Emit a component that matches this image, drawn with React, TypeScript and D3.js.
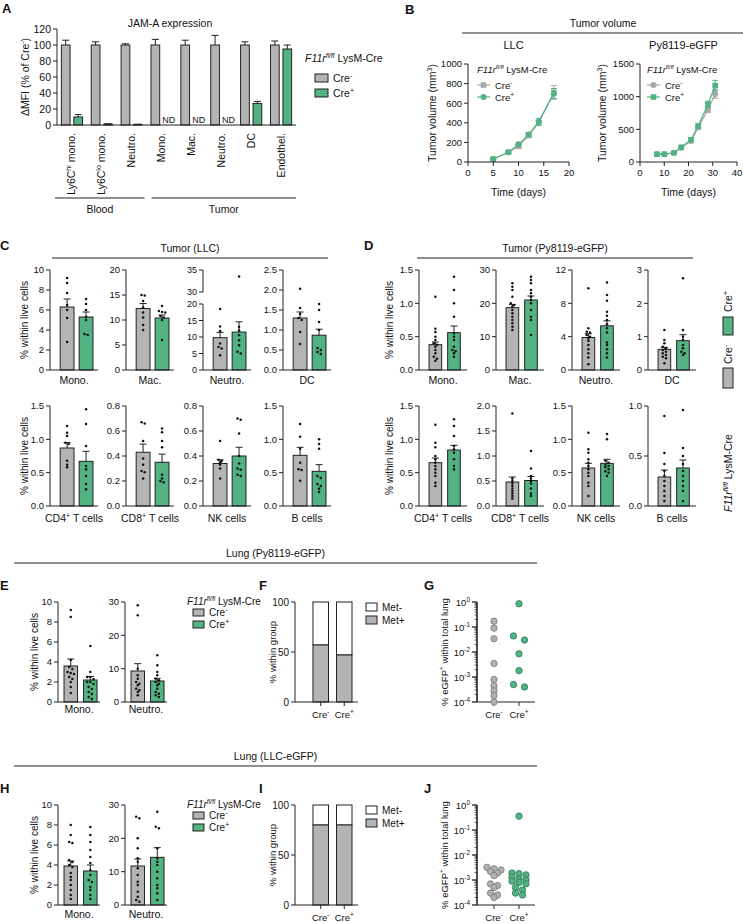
import React from "react";
import * as d3 from "d3";

const FONT = "'Liberation Sans', Arial, Helvetica, sans-serif";
const GREY = "#b4b4b4";
const GREEN = "#52b282";
const INK = "#222";
const LINE_GREY = "#a8a8a8";
const DOT_GREY_FILL = "#b0b0b0";
const DOT_GREY_STROKE = "#7a7a7a";
const DOT_GREEN_STROKE = "#2c7a52";

// ---------- Panel A ----------
const aCats = ["Ly6C^{hi} mono.", "Ly6C^{lo} mono.", "Neutro.", "Mono.", "Mac.", "Neutro.", "DC", "Endothel."];
const aNegMean = [100, 100, 100, 100, 100, 100, 100, 100];
const aNegSem = [6, 4, 1.5, 7, 6, 12, 4, 5];
const aPosMean: (number | null)[] = [10, 1, 0.6, null, null, null, 27, 95];
const aPosSem: (number | null)[] = [3, 0.6, 0.4, null, null, null, 2.5, 5];
const aYTicks = [0, 20, 40, 60, 80, 100, 120];
const aGroupNames = ["Blood", "Tumor"];
const aGroupFrom = [0, 3];
const aGroupTo = [2, 7];

// ---------- Panel B ----------
const llcDays = [5, 8, 10, 12, 14, 17];
const llcNeg = [30, 100, 160, 270, 400, 710];
const llcNegSem = [8, 10, 15, 20, 25, 70];
const llcPos = [30, 100, 180, 280, 410, 700];
const llcPosSem = [8, 10, 15, 20, 35, 50];
const llcXTicks = [0, 5, 10, 15, 20];
const llcYTicks = [0, 200, 400, 600, 800, 1000];
const pyDays = [7, 10, 14, 17, 21, 24, 28, 31];
const pyNeg = [120, 120, 140, 220, 320, 530, 800, 1040];
const pyNegSem = [8, 8, 10, 12, 20, 30, 40, 65];
const pyPos = [120, 120, 140, 225, 340, 550, 880, 1170];
const pyPosSem = [8, 8, 10, 12, 20, 30, 50, 80];
const pyXTicks = [0, 10, 20, 30, 40];
const pyYTicks = [0, 500, 1000, 1500];

// ---------- Panel C ----------
const cTopCats = ["Mono.", "Mac.", "Neutro.", "DC"];
const cTopTicks = [[0, 2, 4, 6, 8, 10], [0, 5, 10, 15, 20], [0, 5, 10, 15, 20, 30, 35], [0, 0.5, 1, 1.5, 2, 2.5]];
const cTopNegMean = [6.3, 12.3, 9.8, 1.3];
const cTopNegSem = [0.8, 1.0, 1.6, 0.15];
const cTopPosMean = [5.3, 10.4, 11.5, 0.87];
const cTopPosSem = [0.5, 0.6, 3.1, 0.15];
const cTopNegPts = [
  [9.2, 8.7, 7.7, 6.5, 6.0, 5.2, 2.8],
  [15.0, 14.9, 13.8, 12.5, 11.5, 10.5, 9.0, 8.0],
  [18.5, 13.2, 11.8, 8.0, 7.0, 6.5, 4.5],
  [2.03, 1.55, 1.4, 1.3, 1.25, 0.95, 0.65],
];
const cTopPosPts = [
  [7.1, 6.6, 6.0, 5.3, 5.0, 3.6, 3.5],
  [12.8, 11.8, 11.6, 11.5, 10.8, 10.5, 10.0, 6.0],
  [33.5, 13.0, 12.0, 10.5, 9.0, 7.5, 5.5, 5.0],
  [1.65, 1.5, 1.2, 1.0, 0.55, 0.5, 0.45, 0.4],
];
const cBotCats = ["CD4^{+} T cells", "CD8^{+} T cells", "NK cells", "B cells"];
const cBotTicks = [[0, 0.5, 1, 1.5], [0, 0.2, 0.4, 0.6, 0.8], [0, 0.2, 0.4, 0.6, 0.8], [0, 0.5, 1, 1.5]];
const cBotNegMean = [0.87, 0.43, 0.34, 0.76];
const cBotNegSem = [0.08, 0.065, 0.03, 0.12];
const cBotPosMean = [0.67, 0.35, 0.4, 0.52];
const cBotPosSem = [0.15, 0.065, 0.07, 0.1];
const cBotNegPts = [
  [1.2, 1.1, 1.05, 0.95, 0.93, 0.68, 0.62, 0.58],
  [0.67, 0.66, 0.52, 0.38, 0.33, 0.28, 0.27, 0.22],
  [0.52, 0.37, 0.36, 0.35, 0.33, 0.3, 0.22],
  [1.23, 1.04, 0.86, 0.65, 0.55, 0.54, 0.38],
];
const cBotPosPts = [
  [1.45, 1.23, 0.9, 0.6, 0.55, 0.45, 0.33, 0.25],
  [0.62, 0.59, 0.52, 0.47, 0.25, 0.22, 0.2, 0.19],
  [0.7, 0.69, 0.58, 0.4, 0.34, 0.3, 0.29, 0.25, 0.24],
  [1.0, 0.93, 0.86, 0.45, 0.42, 0.33, 0.3, 0.26, 0.21],
];

// ---------- Panel D ----------
const dTopTicks = [[0, 0.5, 1, 1.5], [0, 10, 20, 30], [0, 4, 8, 12], [0, 1, 2, 3]];
const dTopNegMean = [0.38, 18.7, 3.9, 0.62];
const dTopNegSem = [0.04, 0.9, 0.45, 0.06];
const dTopPosMean = [0.56, 21.0, 5.3, 0.88];
const dTopPosSem = [0.1, 1.2, 0.6, 0.18];
const dTopNegPts = [
  [1.1, 0.62, 0.57, 0.5, 0.45, 0.4, 0.38, 0.35, 0.3, 0.25, 0.2, 0.17, 0.14],
  [26, 25, 24, 22, 20, 19.5, 19, 18, 17, 16, 15, 14, 13, 12],
  [9.8, 5.0, 4.6, 4.5, 4.2, 4.0, 3.8, 3.5, 3.0, 2.5, 2.0, 1.5, 0.7],
  [1.2, 0.9, 0.8, 0.7, 0.65, 0.6, 0.55, 0.5, 0.45, 0.4, 0.35, 0.2],
];
const dTopPosPts = [
  [1.4, 1.2, 1.0, 0.8, 0.55, 0.5, 0.45, 0.35, 0.3, 0.28, 0.25, 0.2],
  [28, 27, 26, 24, 23, 22, 21, 20, 18, 16, 15, 10.5],
  [10.5, 9.0, 8.3, 7.0, 6.5, 6.0, 5.5, 5.0, 4.5, 3.3, 3.0, 2.5, 2.0, 1.5],
  [2.75, 1.2, 1.0, 0.9, 0.75, 0.65, 0.55, 0.5, 0.45],
];
const dBotTicks = [[0, 0.5, 1, 1.5], [0, 0.5, 1, 1.5, 2], [0, 0.5, 1, 1.5], [0, 0.5, 1]];
const dBotNegMean = [0.65, 0.48, 0.57, 0.29];
const dBotNegSem = [0.07, 0.1, 0.07, 0.07];
const dBotPosMean = [0.84, 0.51, 0.64, 0.38];
const dBotPosSem = [0.07, 0.08, 0.06, 0.08];
const dBotNegPts = [
  [1.22, 0.95, 0.88, 0.75, 0.7, 0.65, 0.6, 0.55, 0.5, 0.45, 0.35, 0.3],
  [1.85, 0.55, 0.5, 0.45, 0.4, 0.35, 0.3, 0.25, 0.2, 0.15],
  [1.1, 0.85, 0.8, 0.7, 0.65, 0.6, 0.55, 0.5, 0.45, 0.35, 0.3, 0.15],
  [0.9, 0.53, 0.42, 0.35, 0.3, 0.25, 0.2, 0.15, 0.1, 0.05],
];
const dBotPosPts = [
  [1.3, 1.2, 1.05, 0.9, 0.85, 0.8, 0.7, 0.6, 0.55],
  [1.1, 0.75, 0.6, 0.55, 0.5, 0.45, 0.35, 0.25, 0.2],
  [1.08, 1.0, 0.68, 0.65, 0.62, 0.6, 0.58, 0.55, 0.52, 0.5, 0.45],
  [0.96, 0.58, 0.5, 0.42, 0.35, 0.3, 0.25, 0.2, 0.15, 0.05],
];

// ---------- Panels E / H ----------
const lungCats = ["Mono.", "Neutro."];
const lungTicks = [[0, 2, 4, 6, 8, 10], [0, 10, 20, 30]];
const eNegMean = [3.6, 9.3];
const eNegSem = [0.7, 2.2];
const ePosMean = [2.2, 6.3];
const ePosSem = [0.35, 0.8];
const eNegPts = [
  [9.2, 8.5, 4.2, 3.5, 3.3, 3.0, 2.9, 2.8, 2.5, 2.3, 2.0, 1.5, 0.9],
  [29, 26, 10, 8, 7, 6, 5.5, 5, 4, 3.5, 3, 2],
];
const ePosPts = [
  [5.6, 3.0, 2.5, 2.5, 2.3, 2.0, 2.0, 1.8, 1.5, 1.3, 1.0, 0.8, 0.5, 0.3],
  [14, 11, 9, 8, 7, 6.5, 6, 5.5, 5, 4, 3, 2.5, 2, 1.5],
];
const hNegMean = [3.9, 11.7];
const hNegSem = [0.5, 2.1];
const hPosMean = [3.4, 14.3];
const hPosSem = [0.6, 2.9];
const hNegPts = [
  [8.0, 7.0, 6.3, 6.2, 4.5, 4.3, 4.0, 3.8, 3.2, 2.8, 2.5, 2.0, 1.5, 1.0, 0.6],
  [26.5, 26, 20, 17, 14, 13, 11, 9, 7, 6, 4, 2.5, 1.5, 1.0],
];
const hPosPts = [
  [7.8, 7.0, 6.3, 5.5, 4.8, 4.2, 3.5, 3.0, 2.5, 2.3, 1.8, 1.5, 1.0, 0.6],
  [28, 23.5, 23, 17, 14, 13, 12, 10, 8, 6, 5, 3.5, 1.5],
];

// ---------- Panels F / I ----------
const metGroups = ["Cre^{-}", "Cre^{+}"];
const fMetPos = [57, 47];
const iMetPos = [80, 80];
const metTicks = [0, 50, 100];

// ---------- Panels G / J ----------
const gNeg = [0.17, 0.09, 0.034, 0.0035, 0.0008, 0.00045, 0.00028, 0.00018, 0.0001];
const gPos = [0.85, 0.044, 0.03, 0.0085, 0.0018, 0.0005, 0.0004];
const jNeg = [0.0032, 0.0028, 0.0025, 0.0022, 0.0019, 0.0015, 0.0007, 0.0006, 0.0005, 0.0003, 0.00025, 0.0002];
const jPos = [0.36, 0.0019, 0.0018, 0.0016, 0.0013, 0.0011, 0.001, 0.0009, 0.0008, 0.0007, 0.0005, 0.0004, 0.0003, 0.00025];
const logTicks = [1e-4, 1e-3, 1e-2, 1e-1, 1];

// ---------- helpers ----------
function Rich({ s, size }: { s: string; size: number }) {
  const parts = s.split(/(\^\{[^}]*\})/).filter((p) => p !== "");
  let shifted = false;
  return (
    <>
      {parts.map((p, i) => {
        if (p.startsWith("^{")) {
          shifted = true;
          return (
            <tspan key={i} fontSize={size * 0.68} dy={-size * 0.42}>
              {p.slice(2, -1)}
            </tspan>
          );
        }
        const dy = shifted ? size * 0.42 : 0;
        shifted = false;
        return (
          <tspan key={i} dy={dy}>
            {p}
          </tspan>
        );
      })}
    </>
  );
}

function Geno({ x, y, size }: { x: number; y: number; size: number }) {
  return (
    <text x={x} y={y} fontSize={size}>
      <tspan fontStyle="italic">F11r</tspan>
      <tspan fontStyle="italic" fontSize={size * 0.65} dy={-size * 0.42}>
        fl/fl
      </tspan>
      <tspan dy={size * 0.42}>{" LysM-Cre"}</tspan>
    </text>
  );
}

const swarm = (vals: number[], ys: (v: number) => number, binH: number, dx: number) => {
  const items = vals.map((v, i) => ({ i, y: ys(v) })).sort((a, b) => a.y - b.y);
  const off = vals.map(() => 0);
  let row: { i: number; y: number }[] = [];
  const flush = () => {
    row.forEach((p, k) => (off[p.i] = (k - (row.length - 1) / 2) * dx));
    row = [];
  };
  items.forEach((p) => {
    if (row.length && p.y - row[0].y > binH) flush();
    row.push(p);
  });
  flush();
  return off;
};

const fmtTick = (ticks: number[]) => {
  const dec = ticks.some((t) => !Number.isInteger(t)) ? 1 : 0;
  return (t: number) => t.toFixed(dec);
};

function YLabel({ x, y, s, size = 10 }: { x: number; y: number; s: string; size?: number }) {
  return (
    <text transform={`translate(${x},${y}) rotate(-90)`} textAnchor="middle" fontSize={size}>
      <Rich s={s} size={size} />
    </text>
  );
}

function Section({ x1, x2, y, title }: { x1: number; x2: number; y: number; title: string }) {
  return (
    <g>
      <line x1={x1} x2={x2} y1={y} y2={y} stroke={INK} strokeWidth={1.2} />
      <text x={(x1 + x2) / 2} y={y - 6} textAnchor="middle" fontSize={10.5}>
        {title}
      </text>
    </g>
  );
}

function Letter({ x, y, s }: { x: number; y: number; s: string }) {
  return (
    <text x={x} y={y} fontSize={13} fontWeight="bold">
      {s}
    </text>
  );
}

// ---------- bar mini-plot ----------
function BarMini(p: any) {
  const { x0, w, yBot, yTop, ticks, brk, mean, sem, pts, label, labelY, pad } = p;
  const max = ticks[ticks.length - 1];
  const y = brk
    ? d3
        .scaleLinear()
        .domain([0, brk[0], brk[1], max])
        .range([yBot, yBot - (yBot - yTop) * 0.66, yBot - (yBot - yTop) * 0.78, yTop])
    : d3.scaleLinear().domain([0, max]).range([yBot, yTop]);
  const xb = d3
    .scaleBand()
    .domain(["neg", "pos"])
    .range([x0, x0 + w])
    .paddingInner(pad[0])
    .paddingOuter(pad[1])
    .align(pad[2]);
  const bw = xb.bandwidth();
  const fmt = fmtTick(ticks);
  const segs = brk ? [[0, brk[0]], [brk[1], max]] : [[0, max]];
  const fills = [GREY, GREEN];
  return (
    <g>
      {["neg", "pos"].map((k, j) => {
        const bx = xb(k) as number;
        const cx = bx + bw / 2;
        const off = swarm(pts[j], y, 2.2, 3.2);
        const top = y(mean[j] + sem[j]);
        return (
          <g key={k}>
            <rect x={bx} y={y(mean[j])} width={bw} height={yBot - y(mean[j])} fill={fills[j]} stroke={INK} strokeWidth={1} />
            <line x1={cx} x2={cx} y1={y(mean[j])} y2={top} stroke={INK} />
            <line x1={cx - 3.5} x2={cx + 3.5} y1={top} y2={top} stroke={INK} />
            {pts[j].map((v: number, i: number) => (
              <circle key={i} cx={cx + off[i]} cy={y(v)} r={1.25} fill="#111" />
            ))}
          </g>
        );
      })}
      <line x1={x0} x2={x0 + w} y1={yBot} y2={yBot} stroke={INK} />
      {segs.map(([a, b]: number[], i: number) => (
        <line key={i} x1={x0} x2={x0} y1={y(a)} y2={y(b)} stroke={INK} />
      ))}
      {ticks.map((t: number) => (
        <g key={t}>
          <line x1={x0 - 4} x2={x0} y1={y(t)} y2={y(t)} stroke={INK} />
          <text x={x0 - 6} y={y(t)} dy="0.35em" textAnchor="end" fontSize={brk ? 9 : 9.5}>
            {fmt(t)}
          </text>
        </g>
      ))}
      <text x={x0 + w / 2} y={labelY} textAnchor="middle" fontSize={10.5}>
        <Rich s={label} size={10.5} />
      </text>
    </g>
  );
}

function BarRow(p: any) {
  const { xs, w, yBot, yTop, cats, ticks, negMean, negSem, posMean, posSem, negPts, posPts, labelY, brkIndex, pad } = p;
  return (
    <g>
      {cats.map((c: string, i: number) => (
        <BarMini
          key={i}
          x0={xs[i]}
          w={w}
          yBot={yBot}
          yTop={yTop}
          ticks={ticks[i]}
          brk={i === brkIndex ? [20, 30] : null}
          mean={[negMean[i], posMean[i]]}
          sem={[negSem[i], posSem[i]]}
          pts={[negPts[i], posPts[i]]}
          label={c}
          labelY={labelY}
          pad={pad}
        />
      ))}
    </g>
  );
}

// ---------- Panel A ----------
function PanelA() {
  const x = d3.scaleBand().domain(aCats.map((_, i) => String(i))).range([57, 296]);
  const step = x.bandwidth();
  const sub = d3.scaleBand().domain(["neg", "pos"]).range([0, step]).paddingInner(0.3).paddingOuter(0.35);
  const y = d3.scaleLinear().domain([0, 120]).range([125, 29]);
  const bw = sub.bandwidth();
  const bar = (gx: number, k: string, m: number, s: number, fill: string, key: string) => {
    const bx = gx + (sub(k) as number);
    const cx = bx + bw / 2;
    return (
      <g key={key}>
        <rect x={bx} y={y(m)} width={bw} height={125 - y(m)} fill={fill} stroke={INK} />
        <line x1={cx} x2={cx} y1={y(m)} y2={y(m + s)} stroke={INK} />
        <line x1={cx - 3.5} x2={cx + 3.5} y1={y(m + s)} y2={y(m + s)} stroke={INK} />
      </g>
    );
  };
  return (
    <g>
      <Letter x={2} y={13} s="A" />
      <text x={170} y={27} textAnchor="middle" fontSize={10.5}>
        JAM-A expression
      </text>
      {aCats.map((c, i) => {
        const gx = x(String(i)) as number;
        const cx = gx + step / 2;
        const pm = aPosMean[i];
        return (
          <g key={i}>
            {bar(gx, "neg", aNegMean[i], aNegSem[i], GREY, "n")}
            {pm !== null
              ? bar(gx, "pos", pm, aPosSem[i] as number, GREEN, "p")
              : (
                <text x={gx + (sub("pos") as number) + bw / 2 + 1} y={123} textAnchor="middle" fontSize={9}>
                  ND
                </text>
              )}
            <text transform={`translate(${cx + 3.5},133) rotate(-90)`} textAnchor="end" fontSize={10.5}>
              <Rich s={c} size={10.5} />
            </text>
          </g>
        );
      })}
      <line x1={57} x2={296} y1={125} y2={125} stroke={INK} />
      <line x1={57} x2={57} y1={125} y2={29} stroke={INK} />
      {aYTicks.map((t) => (
        <g key={t}>
          <line x1={53} x2={57} y1={y(t)} y2={y(t)} stroke={INK} />
          <text x={51} y={y(t)} dy="0.35em" textAnchor="end" fontSize={10.5}>
            {t}
          </text>
        </g>
      ))}
      <YLabel x={29} y={77} s="ΔMFI (% of Cre^{-})" size={10.5} />
      {aGroupNames.map((g, i) => {
        const x1 = (x(String(aGroupFrom[i])) as number) + (i === 0 ? -2 : 5);
        const x2 = (x(String(aGroupTo[i])) as number) + step - (i === 0 ? 2 : 0);
        return (
          <g key={g}>
            <line x1={x1} x2={x2} y1={198} y2={198} stroke={INK} strokeWidth={1.2} />
            <text x={(x1 + x2) / 2} y={213} textAnchor="middle" fontSize={10.5}>
              {g}
            </text>
          </g>
        );
      })}
      <Geno x={305} y={62} size={10.5} />
      {["Cre^{-}", "Cre^{+}"].map((s, i) => (
        <g key={s}>
          <rect x={315} y={74 + i * 15} width={13} height={8} fill={i ? GREEN : GREY} stroke={INK} />
          <text x={333} y={82 + i * 15} fontSize={10.5}>
            <Rich s={s} size={10.5} />
          </text>
        </g>
      ))}
    </g>
  );
}

// ---------- Panel B ----------
function Marker({ kind, x, y, color }: { kind: string; x: number; y: number; color: string }) {
  return kind === "square" ? (
    <rect x={x - 2.8} y={y - 2.8} width={5.6} height={5.6} fill={color} />
  ) : (
    <circle cx={x} cy={y} r={3} fill={color} />
  );
}

function LineChart(p: any) {
  const { x0, x1, xTicks, yTicks, series, legX, title, ylabX } = p;
  const x = d3.scaleLinear().domain([0, xTicks[xTicks.length - 1]]).range([x0, x1]);
  const y = d3.scaleLinear().domain([0, yTicks[yTicks.length - 1]]).range([162, 64]);
  return (
    <g>
      <text x={(x0 + x1) / 2 - 5} y={49} textAnchor="middle" fontSize={11}>
        {title}
      </text>
      {series.map((s: any, si: number) => {
        const pts = s.days.map((d: number, i: number) => [d, s.vals[i]] as [number, number]);
        const path = d3
          .line<[number, number]>()
          .x((d) => x(d[0]))
          .y((d) => y(d[1]))(pts);
        return (
          <g key={si}>
            <path d={path || ""} fill="none" stroke={s.color} strokeWidth={1.2} />
            {s.days.map((d: number, i: number) => {
              const cx = x(d);
              const lo = y(s.vals[i] - s.sem[i]);
              const hi = y(s.vals[i] + s.sem[i]);
              return (
                <g key={i}>
                  <line x1={cx} x2={cx} y1={lo} y2={hi} stroke={s.color} />
                  <line x1={cx - 3} x2={cx + 3} y1={hi} y2={hi} stroke={s.color} />
                  <line x1={cx - 3} x2={cx + 3} y1={lo} y2={lo} stroke={s.color} />
                  <Marker kind={s.marker} x={cx} y={y(s.vals[i])} color={s.color} />
                </g>
              );
            })}
          </g>
        );
      })}
      <line x1={x0} x2={x1} y1={162} y2={162} stroke={INK} />
      <line x1={x0} x2={x0} y1={162} y2={64} stroke={INK} />
      {xTicks.map((t: number) => (
        <g key={t}>
          <line x1={x(t)} x2={x(t)} y1={162} y2={166} stroke={INK} />
          <text x={x(t)} y={176} textAnchor="middle" fontSize={9.5}>
            {t}
          </text>
        </g>
      ))}
      {yTicks.map((t: number) => (
        <g key={t}>
          <line x1={x0 - 4} x2={x0} y1={y(t)} y2={y(t)} stroke={INK} />
          <text x={x0 - 6} y={y(t)} dy="0.35em" textAnchor="end" fontSize={9.5}>
            {t}
          </text>
        </g>
      ))}
      <text x={(x0 + x1) / 2} y={196} textAnchor="middle" fontSize={10.5}>
        Time (days)
      </text>
      <YLabel x={ylabX} y={113} s="Tumor volume (mm^{3})" size={10.5} />
      <Geno x={legX} y={73} size={9.5} />
      {series.map((s: any, si: number) => (
        <g key={si}>
          <line x1={legX} x2={legX + 13} y1={85 + si * 12} y2={85 + si * 12} stroke={s.color} strokeWidth={1.2} />
          <Marker kind={s.marker} x={legX + 6.5} y={85 + si * 12} color={s.color} />
          <text x={legX + 18} y={88.5 + si * 12} fontSize={9.5}>
            <Rich s={s.name} size={9.5} />
          </text>
        </g>
      ))}
    </g>
  );
}

function PanelB() {
  return (
    <g>
      <Letter x={405} y={14} s="B" />
      <line x1={462} x2={743} y1={33} y2={33} stroke={INK} strokeWidth={1.2} />
      <text x={603} y={27} textAnchor="middle" fontSize={10.5}>
        Tumor volume
      </text>
      <LineChart
        x0={468}
        x1={569}
        xTicks={llcXTicks}
        yTicks={llcYTicks}
        legX={477}
        title="LLC"
        ylabX={436}
        series={[
          { name: "Cre^{-}", days: llcDays, vals: llcNeg, sem: llcNegSem, color: LINE_GREY, marker: "square" },
          { name: "Cre^{+}", days: llcDays, vals: llcPos, sem: llcPosSem, color: GREEN, marker: "circle" },
        ]}
      />
      <LineChart
        x0={640}
        x1={737}
        xTicks={pyXTicks}
        yTicks={pyYTicks}
        legX={647}
        title="Py8119-eGFP"
        ylabX={606}
        series={[
          { name: "Cre^{-}", days: pyDays, vals: pyNeg, sem: pyNegSem, color: LINE_GREY, marker: "circle" },
          { name: "Cre^{+}", days: pyDays, vals: pyPos, sem: pyPosSem, color: GREEN, marker: "square" },
        ]}
      />
    </g>
  );
}

// ---------- Panel C & D ----------
const padCD = [0.27, 0.4, 0.67];
function PanelC() {
  const xs = [50, 126, 203, 283];
  return (
    <g>
      <Letter x={0} y={250} s="C" />
      <Section x1={52} x2={328} y={258} title="Tumor (LLC)" />
      <BarRow xs={xs} w={48} yBot={370} yTop={270} cats={cTopCats} ticks={cTopTicks} negMean={cTopNegMean} negSem={cTopNegSem}
        posMean={cTopPosMean} posSem={cTopPosSem} negPts={cTopNegPts} posPts={cTopPosPts} labelY={384} brkIndex={2} pad={padCD} />
      <BarRow xs={xs} w={48} yBot={506} yTop={406} cats={cBotCats} ticks={cBotTicks} negMean={cBotNegMean} negSem={cBotNegSem}
        posMean={cBotPosMean} posSem={cBotPosSem} negPts={cBotNegPts} posPts={cBotPosPts} labelY={522} brkIndex={-1} pad={padCD} />
      <YLabel x={28} y={320} s="% within live cells" />
      <YLabel x={28} y={456} s="% within live cells" />
    </g>
  );
}

function PanelD() {
  const xs = [419, 496, 572, 648];
  return (
    <g>
      <Letter x={364} y={250} s="D" />
      <Section x1={417} x2={693} y={258} title="Tumor (Py8119-eGFP)" />
      <BarRow xs={xs} w={48} yBot={370} yTop={270} cats={cTopCats} ticks={dTopTicks} negMean={dTopNegMean} negSem={dTopNegSem}
        posMean={dTopPosMean} posSem={dTopPosSem} negPts={dTopNegPts} posPts={dTopPosPts} labelY={384} brkIndex={-1} pad={[0.32, 0.45, 0.6]} />
      <BarRow xs={xs} w={48} yBot={506} yTop={406} cats={cBotCats} ticks={dBotTicks} negMean={dBotNegMean} negSem={dBotNegSem}
        posMean={dBotPosMean} posSem={dBotPosSem} negPts={dBotNegPts} posPts={dBotPosPts} labelY={522} brkIndex={-1} pad={[0.32, 0.45, 0.6]} />
      <YLabel x={393} y={320} s="% within live cells" />
      <YLabel x={393} y={456} s="% within live cells" />
      <g transform="translate(728,512) rotate(-90)">
        <text x={0} y={4} fontSize={10.5}>
          <tspan fontStyle="italic">F11r</tspan>
          <tspan fontStyle="italic" fontSize={7} dy={-4.4}>
            fl/fl
          </tspan>
          <tspan dy={4.4}>{" LysM-Cre"}</tspan>
        </text>
        <rect x={124} y={-5} width={20} height={10} fill={GREY} stroke={INK} />
        <text x={148} y={4} fontSize={10.5}>
          <Rich s="Cre^{-}" size={10.5} />
        </text>
        <rect x={177} y={-5} width={18} height={10} fill={GREEN} stroke={INK} />
        <text x={200} y={4} fontSize={10.5}>
          <Rich s="Cre^{+}" size={10.5} />
        </text>
      </g>
    </g>
  );
}

// ---------- Lung panels ----------
function StackPanel({ yBot, yTop, metPos, legY }: { yBot: number; yTop: number; metPos: number[]; legY: number }) {
  const x = d3.scaleBand().domain(metGroups).range([295, 358]).paddingInner(0.34).paddingOuter(0.51).align(0.75);
  const y = d3.scaleLinear().domain([0, 100]).range([yBot, yTop]);
  const bw = x.bandwidth();
  return (
    <g>
      {metGroups.map((g, i) => {
        const bx = x(g) as number;
        return (
          <g key={g}>
            <rect x={bx} y={y(100)} width={bw} height={y(metPos[i]) - y(100)} fill="#fff" stroke={INK} />
            <rect x={bx} y={y(metPos[i])} width={bw} height={yBot - y(metPos[i])} fill={GREY} stroke={INK} />
            <line x1={bx + bw / 2} x2={bx + bw / 2} y1={yBot} y2={yBot + 4} stroke={INK} />
            <text x={bx + bw / 2} y={yBot + 16} textAnchor="middle" fontSize={9.5}>
              <Rich s={g} size={9.5} />
            </text>
          </g>
        );
      })}
      <line x1={295} x2={358} y1={yBot} y2={yBot} stroke={INK} />
      <line x1={295} x2={295} y1={yBot} y2={yTop} stroke={INK} />
      {metTicks.map((t) => (
        <g key={t}>
          <line x1={291} x2={295} y1={y(t)} y2={y(t)} stroke={INK} />
          <text x={289} y={y(t)} dy="0.35em" textAnchor="end" fontSize={10}>
            {t}
          </text>
        </g>
      ))}
      <YLabel x={276} y={(yBot + yTop) / 2} s="% within group" size={9.5} />
      {["Met-", "Met+"].map((s, i) => (
        <g key={s}>
          <rect x={366} y={legY - 4 + i * 13} width={11} height={8} fill={i ? GREY : "#fff"} stroke={INK} />
          <text x={382} y={legY + 3.5 + i * 13} fontSize={10}>
            {s}
          </text>
        </g>
      ))}
    </g>
  );
}

function LogPanel({ yBot, yTop, neg, pos, binH, dx }: any) {
  const y = d3.scaleLog().domain([1e-4, 1]).range([yBot, yTop]);
  const x = d3.scalePoint().domain(metGroups).range([494, 519]);
  const minor: number[] = [];
  for (let e = -4; e < 0; e++) for (let k = 2; k < 10; k++) minor.push(k * Math.pow(10, e));
  const sets = [neg, pos];
  return (
    <g>
      <line x1={477} x2={535} y1={yBot} y2={yBot} stroke={INK} />
      <line x1={477} x2={477} y1={yBot} y2={yTop} stroke={INK} strokeWidth={1.6} />
      {minor.map((t, i) => (
        <line key={i} x1={474.5} x2={477} y1={y(t)} y2={y(t)} stroke={INK} strokeWidth={0.7} />
      ))}
      {logTicks.map((t) => {
        const e = Math.round(Math.log10(t));
        return (
          <g key={t}>
            <line x1={472} x2={477} y1={y(t)} y2={y(t)} stroke={INK} strokeWidth={1.3} />
            <text x={470} y={y(t) + 3.5} textAnchor="end" fontSize={9.5}>
              <Rich s={`10^{${e}}`} size={9.5} />
            </text>
          </g>
        );
      })}
      {metGroups.map((g, j) => {
        const cx = x(g) as number;
        const off = swarm(sets[j], (v: number) => y(v), binH, dx);
        return (
          <g key={g}>
            <line x1={cx} x2={cx} y1={yBot} y2={yBot + 4} stroke={INK} />
            <text x={cx} y={yBot + 16} textAnchor="middle" fontSize={9.5}>
              <Rich s={g} size={9.5} />
            </text>
            {sets[j].map((v: number, i: number) => (
              <circle
                key={i}
                cx={cx + off[i]}
                cy={y(v)}
                r={3.2}
                fill={j ? GREEN : DOT_GREY_FILL}
                stroke={j ? DOT_GREEN_STROKE : DOT_GREY_STROKE}
                strokeWidth={0.8}
              />
            ))}
          </g>
        );
      })}
      <YLabel x={448} y={(yBot + yTop) / 2} s="% eGFP^{+} within total lung" size={9.5} />
    </g>
  );
}

function LungRow(p: any) {
  const { yBot, yTop, negMean, negSem, posMean, posSem, negPts, posPts, labelY, legY, metPos, logNeg, logPos, letters, binH, dx } = p;
  return (
    <g>
      <Letter x={0} y={yTop - 12} s={letters[0]} />
      <Letter x={259} y={yTop - 12} s={letters[1]} />
      <Letter x={424} y={yTop - 12} s={letters[2]} />
      <BarRow xs={[58, 125]} w={42} yBot={yBot} yTop={yTop} cats={lungCats} ticks={lungTicks} negMean={negMean} negSem={negSem}
        posMean={posMean} posSem={posSem} negPts={negPts} posPts={posPts} labelY={labelY} brkIndex={-1} pad={[0.31, 0.23, 0.67]} />
      <YLabel x={38} y={(yBot + yTop) / 2} s="% within live cells" />
      <Geno x={187} y={legY} size={10} />
      {["Cre^{-}", "Cre^{+}"].map((s, i) => (
        <g key={s}>
          <rect x={193} y={legY + 4 + i * 12} width={11} height={7} fill={i ? GREEN : GREY} stroke={INK} />
          <text x={209} y={legY + 11 + i * 12} fontSize={10}>
            <Rich s={s} size={10} />
          </text>
        </g>
      ))}
      <StackPanel yBot={yBot} yTop={yTop} metPos={metPos} legY={legY + 2} />
      <LogPanel yBot={yBot} yTop={yTop} neg={logNeg} pos={logPos} binH={binH} dx={dx} />
    </g>
  );
}

export default function App() {
  return (
    <svg
      width={743}
      height={923}
      style={{ position: "absolute", left: 0, top: 0, background: "#fff" }}
      fontFamily={FONT}
      fill="#111"
    >
      <rect x={0} y={0} width={743} height={923} fill="#fff" />
      <PanelA />
      <PanelB />
      <PanelC />
      <PanelD />
      <Section x1={14} x2={537} y={563} title="Lung (Py8119-eGFP)" />
      <LungRow yBot={702} yTop={602} negMean={eNegMean} negSem={eNegSem} posMean={ePosMean} posSem={ePosSem}
        negPts={eNegPts} posPts={ePosPts} labelY={713} legY={605} metPos={fMetPos} logNeg={gNeg} logPos={gPos}
        letters={["E", "F", "G"]} binH={4.5} dx={11} />
      <Section x1={14} x2={537} y={766} title="Lung (LLC-eGFP)" />
      <LungRow yBot={905} yTop={805} negMean={hNegMean} negSem={hNegSem} posMean={hPosMean} posSem={hPosSem}
        negPts={hNegPts} posPts={hPosPts} labelY={918} legY={808} metPos={iMetPos} logNeg={jNeg} logPos={jPos}
        letters={["H", "I", "J"]} binH={3.5} dx={7} />
    </svg>
  );
}
